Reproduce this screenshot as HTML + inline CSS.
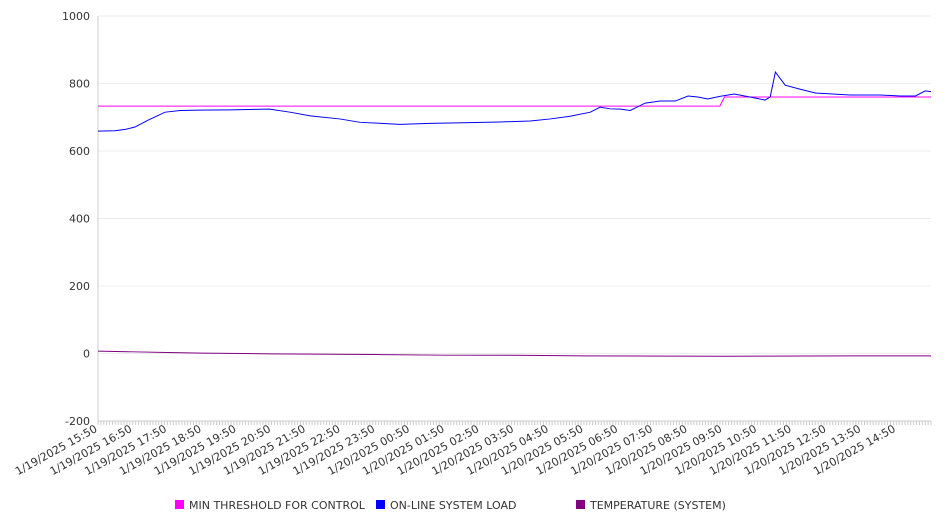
<!DOCTYPE html>
<html><head><meta charset="utf-8"><style>
body{margin:0;background:#fff;font-family:"Liberation Sans","DejaVu Sans",sans-serif}
</style></head><body>
<svg id="chart" width="946" height="526" xmlns="http://www.w3.org/2000/svg" font-family="DejaVu Sans, Liberation Sans, sans-serif"></svg>
<script>
const loadTimes=[0,29,47,64,86,116,142,176,228,297,332,367,418,453,522,574,643,695,747,782,816,851,868,885,903,920,946,972,998,1020,1037,1054,1075,1100,1127,1153,1162,1171,1188,1214,1240,1300,1352,1387,1413,1430,1440];
const loadValues=[659,660,664,671,691,715,720,721,722,724,715,704,695,685,679,682,684,686,689,695,703,715,730,725,724,720,742,748,748,763,760,754,762,769,760,751,760,834,795,783,772,766,766,763,763,778,776];
const thrTimes=[0,1075,1083,1440];
const thrValues=[733,733,760,760];
const tempTimes=[0,60,120,180,300,480,600,720,840,1080,1300,1440];
const tempValues=[7,5,3,1,-1,-3,-5,-5,-7,-8,-7,-7];
const yTicks=[-200,0,200,400,600,800,1000];
const xLabels=["1/19/2025 15:50","1/19/2025 16:50","1/19/2025 17:50","1/19/2025 18:50","1/19/2025 19:50","1/19/2025 20:50","1/19/2025 21:50","1/19/2025 22:50","1/19/2025 23:50","1/20/2025 00:50","1/20/2025 01:50","1/20/2025 02:50","1/20/2025 03:50","1/20/2025 04:50","1/20/2025 05:50","1/20/2025 06:50","1/20/2025 07:50","1/20/2025 08:50","1/20/2025 09:50","1/20/2025 10:50","1/20/2025 11:50","1/20/2025 12:50","1/20/2025 13:50","1/20/2025 14:50"];
const L=98,R=931,T=16,B=421,TMAX=1440;
const xs=t=>L+(R-L)*t/TMAX;
const ys=v=>T+(B-T)*(1000-v)/1200;
const svg=document.getElementById('chart');
const NS="http://www.w3.org/2000/svg";
function mk(tag,attrs,text){const e=document.createElementNS(NS,tag);for(const k in attrs)e.setAttribute(k,attrs[k]);if(text!=null)e.textContent=text;svg.appendChild(e);return e;}
yTicks.forEach(v=>{
 const g=mk('line',{x1:L,x2:R,y1:ys(v),y2:ys(v),stroke:'#ececec','stroke-width':1});
 
 
 const t=mk('text',{x:90,y:ys(v)+4,'text-anchor':'end','font-size':11,fill:'#333'},v);
 
 
});
const ax=mk('line',{x1:L,x2:L,y1:T,y2:B,stroke:'#ccc'});


const bx=mk('line',{x1:L,x2:R,y1:B,y2:B,stroke:'#ccc'});


for(let t=0;t<=TMAX;t+=5){
 const k=mk('line',{x1:xs(t),x2:xs(t),y1:B,y2:B+4,stroke:'#ccc'});
 
 
}
xLabels.forEach((s,i)=>{
 const x=xs(i*60),y=B+10;
 const t=mk('text',{x:x,y:y,'text-anchor':'end','font-size':11,fill:'#333',transform:`rotate(-29 ${x} ${y})`},s);
 
 
});
function line(times,vals,color,name){
 const p=mk('polyline',{points:times.map((t,i)=>xs(t)+','+ys(vals[i])).join(' '),fill:'none',stroke:color,'stroke-width':1});
 
 
}
line(tempTimes,tempValues,'#800080','temperature-line');
line(thrTimes,thrValues,'#ff00ff','threshold-line');
line(loadTimes,loadValues,'#0000ff','load-line');
[[175,'#ff00ff','MIN THRESHOLD FOR CONTROL'],[376,'#0000ff','ON-LINE SYSTEM LOAD'],[576,'#800080','TEMPERATURE (SYSTEM)']].forEach(([x,c,s])=>{
 const r=mk('rect',{x:x,y:500,width:9,height:9,fill:c});
 
 
 const t=mk('text',{x:x+14,y:509,'font-size':11,fill:'#333'},s);
 
 
});
</script>
</body></html>
